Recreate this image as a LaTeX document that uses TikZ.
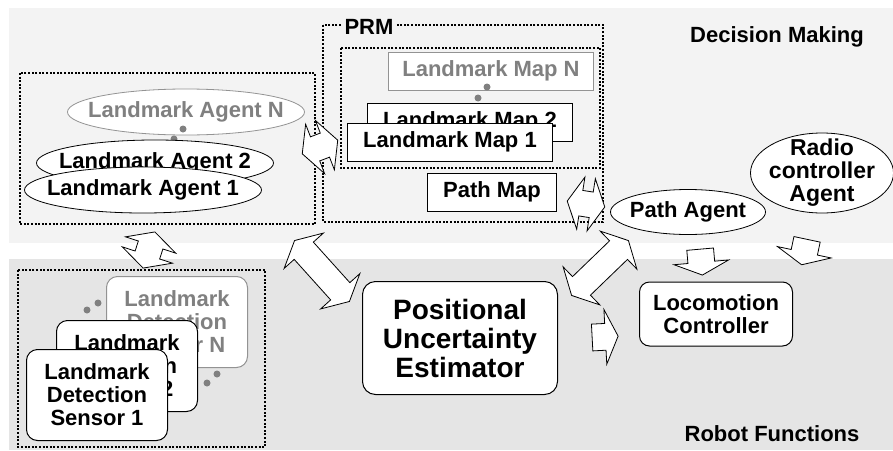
\documentclass[tikz,border=0pt]{standalone}
\usepackage{fontspec}
\setmainfont{Liberation Sans}
\usetikzlibrary{shapes.geometric,shapes.arrows}
\definecolor{upperband}{RGB}{243,243,243}
\definecolor{lowerband}{RGB}{229,229,229}
\definecolor{fadegray}{RGB}{128,128,128}

\begin{document}
\begin{tikzpicture}[x=1pt,y=-1pt,
  every node/.style={font=\bfseries\fontsize{22}{23}\selectfont, inner sep=0pt},
  group/.style={line width=2pt, dash pattern=on 2pt off 1.6pt},
  nth/.style={draw=fadegray!85, text=fadegray},
  agent/.style={ellipse, draw, fill=white, line width=0.8pt, minimum width=237pt, minimum height=46pt},
  mapbox/.style={rectangle, draw, fill=white, line width=1pt, minimum width=205pt, minimum height=38pt},
  sensor/.style={rectangle, rounded corners=11pt, draw, fill=white, line width=1pt, minimum width=141pt, minimum height=91pt, align=center},
  link/.style={double arrow, draw, fill=white, line width=0.8pt, inner xsep=0pt, inner ysep=12.5pt,
    double arrow head extend=13.5pt, double arrow tip angle=125, minimum height=38pt},
  push/.style={single arrow, draw, fill=white, line width=0.8pt, inner xsep=0pt, inner ysep=13pt,
    single arrow head extend=14pt, single arrow tip angle=130, minimum height=26pt}]

  \useasboundingbox[fill=white] (0,0) rectangle (893,450);
  % layers
  \fill[upperband] (9,8) rectangle (893,243);
  \fill[lowerband] (9,259) rectangle (893,450);
  \node (decision) at (777,37) {Decision Making};
  \node (robot) at (772,434) {Robot Functions};

  % groups
  \draw[group] (20,73) rectangle (315,224);
  \draw[group] (323,25) rectangle (603,222);
  \draw[group] (341,48) rectangle (600,168);
  \draw[group] (18,270) rectangle (265,447);
  \node[fill=upperband, inner xsep=3pt] (prm) at (369,27) {PRM};

  % landmark agents
  \node[agent, nth, label={[text=fadegray]center:Landmark Agent N}] (agentN) at (186,112) {};
  \fill[fadegray] (183,129) circle (3.5pt) (174,139) circle (3.5pt);
  \node[agent, label={center:Landmark Agent 2}] (agent2) at (155,163) {};
  \node[agent, label={center:Landmark Agent 1}] (agent1) at (143,190) {};

  % maps
  \node[mapbox, nth] (mapN) at (491,71) {Landmark Map N};
  \fill[fadegray] (487,87) circle (3.5pt) (478,98) circle (3.5pt);
  \node[mapbox] (map2) at (470,122) {Landmark Map 2};
  \node[mapbox] (map1) at (450,142) {Landmark Map 1};
  \node[mapbox, minimum width=129pt] (pathmap) at (492,192) {Path Map};

  % agents on the right
  \node[ellipse, draw, fill=white, line width=0.8pt, minimum width=143pt, minimum height=80pt,
    label={[align=center, font=\bfseries\fontsize{23}{23}\selectfont]center:Radio\\controller\\Agent}] (radio) at (822,173) {};
  \node[ellipse, draw, fill=white, line width=0.8pt, minimum width=155pt, minimum height=45pt,
    label={center:Path Agent}] (pathagent) at (688,212) {};

  % sensors
  \node[sensor, nth] (sensorN) at (177,322) {Landmark\\Detection\\Sensor N};
  \fill[fadegray] (87,310) circle (3.5pt) (98,303) circle (3.5pt);
  \fill[fadegray] (207,383) circle (3.5pt) (217,374) circle (3.5pt);
  \node[sensor] (sensor2) at (127,366) {Landmark\\Detection\\Sensor 2};
  \node[sensor] (sensor1) at (97,395) {Landmark\\Detection\\Sensor 1};

  % robot functions
  \node[rectangle, rounded corners=13pt, draw, fill=white, line width=1pt, minimum width=195pt, minimum height=113pt,
    align=center, font=\bfseries\fontsize{28}{29}\selectfont] (estimator) at (460,338) {Positional\\Uncertainty\\Estimator};
  \node[rectangle, rounded corners=10pt, draw, fill=white, line width=1pt, minimum width=153pt, minimum height=64pt,
    align=center] (locomotion) at (716,314) {Locomotion\\Controller};

  % block arrows
  \node[link, rotate=21] (agentprm) at (320,147) {};
  \node[link, rotate=72] (agentsensor) at (149,250) {};
  \node[link, rotate=-48, minimum height=82pt] (agentest) at (322,271) {};
  \node[link, rotate=44, minimum height=79pt] (pathest) at (600,268) {};
  \node[link, rotate=-9] (prmpath) at (586,204) {};
  \node[push, rotate=-85] (pathloco) at (701,259) {};
  \node[push, rotate=-102] (radioloco) at (805,249) {};
  \node[push, rotate=3] (estloco) at (602,337) {};
\end{tikzpicture}
\end{document}
